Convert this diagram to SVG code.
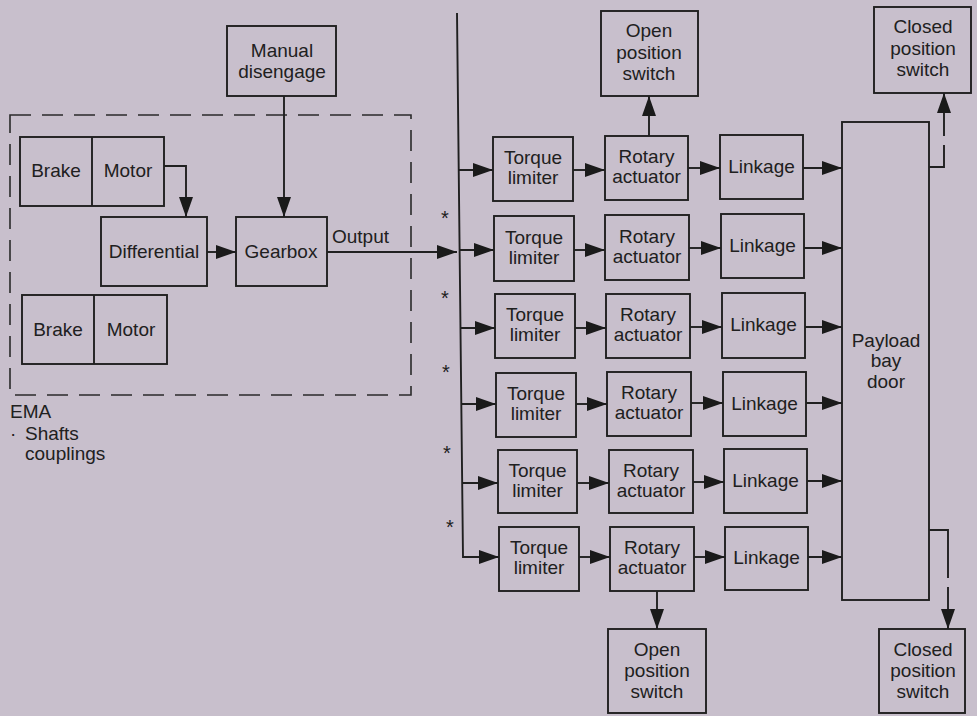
<svg xmlns="http://www.w3.org/2000/svg" width="977" height="716" viewBox="0 0 977 716">
<defs>
<style>
.b{fill:none;stroke:#202020;stroke-width:1.9}
.c{fill:none;stroke:#202020;stroke-width:1.9}
.a{marker-end:url(#ah)}
.d{fill:none;stroke:#2a2a2a;stroke-width:1.6;stroke-dasharray:21 11}
text{font-family:"Liberation Sans",Arial,Helvetica,sans-serif;font-size:19px;fill:#202020}
.m{text-anchor:middle}
.s{font-size:20px}
</style>
<marker id="ah" viewBox="0 0 20 14" refX="20" refY="7" markerWidth="20" markerHeight="14" markerUnits="userSpaceOnUse" orient="auto">
<path d="M0,0 L20,7 L0,14 Z" fill="#1a1a1a"/>
</marker>
</defs>
<rect width="977" height="716" fill="#c8bfcc"/>

<g id="ema-boundary">
<rect class="d" x="10" y="115" width="401" height="280"/>
<text x="10" y="418">EMA</text>
<text y="440"><tspan x="10">·</tspan><tspan x="25">Shafts</tspan></text>
<text x="25" y="460">couplings</text>
</g>

<g id="manual-disengage"><rect class="b" x="227" y="26" width="109" height="70"/><text class="m" x="282" y="57">Manual</text><text class="m" x="282" y="78">disengage</text></g>
<g id="brake-motor-1"><rect class="b" x="20" y="137" width="144" height="69"/><line class="b" x1="92" y1="137" x2="92" y2="206"/><text class="m" x="56" y="177">Brake</text><text class="m" x="128" y="177">Motor</text></g>
<g id="brake-motor-2"><rect class="b" x="22" y="295" width="145" height="69"/><line class="b" x1="94" y1="295" x2="94" y2="364"/><text class="m" x="58" y="336">Brake</text><text class="m" x="131" y="336">Motor</text></g>
<g id="differential"><rect class="b" x="101" y="217" width="106" height="69"/><text class="m" x="154" y="258">Differential</text></g>
<g id="gearbox"><rect class="b" x="236" y="217" width="91" height="69"/><text class="m" x="281" y="258">Gearbox</text></g>

<g id="stars">
<text class="s m" x="445" y="225">*</text>
<text class="s m" x="445" y="305">*</text>
<text class="s m" x="446" y="379">*</text>
<text class="s m" x="447" y="460">*</text>
<text class="s m" x="450" y="534">*</text>
</g>

<g id="open-switch-top"><rect class="b" x="601" y="11" width="97" height="85"/><text class="m" x="649" y="37">Open</text><text class="m" x="649" y="59">position</text><text class="m" x="649" y="80">switch</text></g>
<g id="closed-switch-top"><rect class="b" x="874" y="7" width="97" height="86"/><text class="m" x="923" y="33">Closed</text><text class="m" x="923" y="55">position</text><text class="m" x="923" y="76">switch</text></g>
<g id="open-switch-bottom"><rect class="b" x="608" y="629" width="98" height="84"/><text class="m" x="657" y="656">Open</text><text class="m" x="657" y="677">position</text><text class="m" x="657" y="698">switch</text></g>
<g id="closed-switch-bottom"><rect class="b" x="879" y="629" width="86" height="84"/><text class="m" x="923" y="656">Closed</text><text class="m" x="923" y="677">position</text><text class="m" x="923" y="698">switch</text></g>

<g id="payload-bay-door"><rect class="b" x="842" y="122" width="87" height="478"/><text class="m" x="886" y="347">Payload</text><text class="m" x="886" y="367">bay</text><text class="m" x="886" y="388">door</text></g>

<g id="torque-limiter-1"><rect class="b" x="493" y="137" width="80" height="64"/><text class="m" x="533" y="164">Torque</text><text class="m" x="533" y="184">limiter</text></g>
<g id="rotary-actuator-1"><rect class="b" x="605" y="136" width="83" height="64"/><text class="m" x="646.5" y="163">Rotary</text><text class="m" x="646.5" y="183">actuator</text></g>
<g id="linkage-1"><rect class="b" x="720" y="135" width="83" height="64"/><text class="m" x="761.5" y="173">Linkage</text></g>

<g id="torque-limiter-2"><rect class="b" x="494" y="216" width="80" height="65"/><text class="m" x="534" y="244">Torque</text><text class="m" x="534" y="264">limiter</text></g>
<g id="rotary-actuator-2"><rect class="b" x="605" y="215" width="84" height="65"/><text class="m" x="647" y="243">Rotary</text><text class="m" x="647" y="263">actuator</text></g>
<g id="linkage-2"><rect class="b" x="721" y="214" width="83" height="64"/><text class="m" x="762.5" y="252">Linkage</text></g>

<g id="torque-limiter-3"><rect class="b" x="495" y="294" width="80" height="64"/><text class="m" x="535" y="321">Torque</text><text class="m" x="535" y="341">limiter</text></g>
<g id="rotary-actuator-3"><rect class="b" x="606" y="294" width="84" height="64"/><text class="m" x="648" y="321">Rotary</text><text class="m" x="648" y="341">actuator</text></g>
<g id="linkage-3"><rect class="b" x="722" y="293" width="83" height="65"/><text class="m" x="763.5" y="331">Linkage</text></g>

<g id="torque-limiter-4"><rect class="b" x="496" y="373" width="80" height="64"/><text class="m" x="536" y="400">Torque</text><text class="m" x="536" y="420">limiter</text></g>
<g id="rotary-actuator-4"><rect class="b" x="607" y="372" width="84" height="64"/><text class="m" x="649" y="399">Rotary</text><text class="m" x="649" y="419">actuator</text></g>
<g id="linkage-4"><rect class="b" x="723" y="372" width="83" height="64"/><text class="m" x="764.5" y="410">Linkage</text></g>

<g id="torque-limiter-5"><rect class="b" x="498" y="450" width="79" height="63"/><text class="m" x="537.5" y="477">Torque</text><text class="m" x="537.5" y="497">limiter</text></g>
<g id="rotary-actuator-5"><rect class="b" x="609" y="450" width="84" height="63"/><text class="m" x="651" y="477">Rotary</text><text class="m" x="651" y="497">actuator</text></g>
<g id="linkage-5"><rect class="b" x="724" y="449" width="83" height="64"/><text class="m" x="765.5" y="487">Linkage</text></g>

<g id="torque-limiter-6"><rect class="b" x="499" y="527" width="80" height="64"/><text class="m" x="539" y="554">Torque</text><text class="m" x="539" y="574">limiter</text></g>
<g id="rotary-actuator-6"><rect class="b" x="610" y="527" width="84" height="64"/><text class="m" x="652" y="554">Rotary</text><text class="m" x="652" y="574">actuator</text></g>
<g id="linkage-6"><rect class="b" x="725" y="527" width="83" height="63"/><text class="m" x="766.5" y="564">Linkage</text></g>

<g id="output-label"><text x="332" y="243">Output</text></g>

<g id="connectors">
<path class="c a" d="M284,96 V217"/>
<path class="c a" d="M164,166 H186 V217"/>
<path class="c a" d="M207,252 H236"/>
<path class="c a" d="M327,252 H457"/>
<path class="c a" d="M457,13 L463,557 H499"/>
<path class="c a" d="M458.7,170 H493"/>
<path class="c a" d="M459.6,250 H494"/>
<path class="c a" d="M460.5,328 H495"/>
<path class="c a" d="M461.3,404 H496"/>
<path class="c a" d="M462.2,483 H498"/>
<path class="c a" d="M573,170 H605"/>
<path class="c a" d="M574,250 H605"/>
<path class="c a" d="M575,328 H606"/>
<path class="c a" d="M576,404 H607"/>
<path class="c a" d="M577,483 H609"/>
<path class="c a" d="M579,557 H610"/>
<path class="c a" d="M688,168 H720"/>
<path class="c a" d="M689,248 H721"/>
<path class="c a" d="M690,327 H722"/>
<path class="c a" d="M691,403 H723"/>
<path class="c a" d="M693,482 H724"/>
<path class="c a" d="M694,557 H725"/>
<path class="c a" d="M803,168 H842"/>
<path class="c a" d="M804,248 H842"/>
<path class="c a" d="M805,327 H842"/>
<path class="c a" d="M806,403 H842"/>
<path class="c a" d="M807,481 H842"/>
<path class="c a" d="M808,557 H842"/>
<path class="c a" d="M649,136 V96"/>
<path class="c a" d="M657,591 V629"/>
<path class="c" d="M929,167 H944 V145"/>
<path class="c a" d="M944,136 V93"/>
<path class="c" d="M929,530 H948 V578"/>
<path class="c a" d="M948,587 V629"/>
</g>
</svg>
